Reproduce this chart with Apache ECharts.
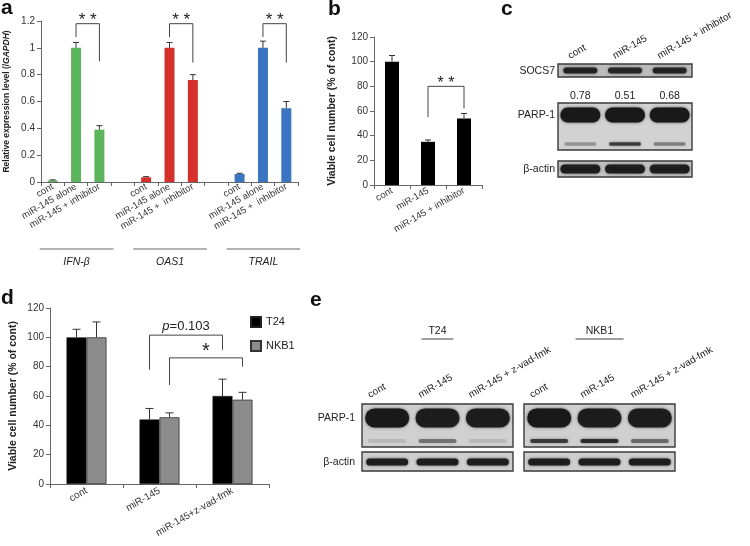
<!DOCTYPE html>
<html>
<head>
<meta charset="utf-8">
<script src="https://cdn.jsdelivr.net/npm/echarts@6/dist/echarts.min.js"></script>
<style>
  html, body { margin: 0; padding: 0; background: #fff; }
  #main { width: 750px; height: 546px; }
</style>
</head>
<body>
<div id="main"></div>
<script>
var FONT = '"Liberation Sans", Arial, sans-serif';

// ---- panel a: qPCR
var aCategories = ['cont', 'miR-145 alone', 'miR-145 + inhibitor', '',
                   'cont', 'miR-145 alone', 'miR-145 +  inhibitor', '',
                   'cont', 'miR-145 alone', 'miR-145 +  inhibitor'];
var aValues = [0.012, 1.0, 0.39, '-', 0.035, 1.0, 0.76, '-', 0.06, 1.0, 0.55];
var aErrors = [0.004, 0.04, 0.03, '-', 0.005, 0.04, 0.04, '-', 0.005, 0.05, 0.05];
var aGroups = ['IFN-β', 'OAS1', 'TRAIL'];
var aColors = ['#5cb45c', '#d6302d', '#3b75c2'];
var aBrackets = [[1, 2, 1.08, 1.18, 0.9], [5, 6, 1.08, 1.18, 0.89], [9, 10, 1.08, 1.18, 0.89]];
var aBracketLabels = ['* *', '* *', '* *'];

// ---- panel b: viable cells
var bCategories = ['cont', 'miR-145', 'miR-145 + inhibitor'];
var bValues = [100, 35, 54];
var bErrors = [5, 1.5, 4];
var bBrackets = [[1, 2, 55, 80, 62]];
var bBracketLabels = ['* *'];

// ---- panel c: western blot
var cLanes = ['cont', 'miR-145', 'miR-145 + inhibitor'];
var cRatios = ['0.78', '0.51', '0.68'];
var cSOCS7 = [0.9, 0.85, 0.88];
var cPARP = [1, 1, 1];
var cPARPcleaved = [0.3, 0.75, 0.4];
var cActin = [0.95, 0.95, 0.95];

// ---- panel d: viable cells, two lines
var dCategories = ['cont', 'miR-145', 'miR-145+z-vad-fmk'];
var dT24 = [100, 44, 60];
var dT24Err = [5.5, 7.5, 11.5];
var dNKB1 = [100, 45.5, 57.5];
var dNKB1Err = [10.5, 3, 5];
var dBrackets = [[1, 2, 78, 101.5, 91.5], [1, 2, 67.5, 86, 80]];
var dBracketSides = [[0, 0], [1, 1]];
var dBracketLabels = ['{i|p}=0.103', '{s|*}'];

// ---- panel e: western blot
var eLanes = ['cont', 'miR-145', 'miR-145 + z-vad-fmk'];
var eCells = ['T24', 'NKB1'];
var eT24PARP = [1, 0.95, 0.95];
var eT24Cleaved = [0.12, 0.45, 0.12];
var eNKB1PARP = [1, 0.95, 0.95];
var eNKB1Cleaved = [0.75, 0.85, 0.5];
var eActin = [0.95, 0.95, 0.95];

// 误差线（只画上半）
function errorBar(half, cap) {
    return function (params, api) {
        var x = api.value(0), v = api.value(1), e = api.value(2);
        var base = api.coord([x, v]);
        var top = api.coord([x, v + e]);
        var cx = base[0] + half;
        return {
            type: 'group',
            children: [
                { type: 'line', shape: { x1: cx, y1: base[1], x2: cx, y2: top[1] }, style: { stroke: '#333', lineWidth: 1 } },
                { type: 'line', shape: { x1: cx - cap, y1: top[1], x2: cx + cap, y2: top[1] }, style: { stroke: '#333', lineWidth: 1 } }
            ]
        };
    };
}

// 显著性括号
function bracket(labels, sides, half, fontSize, gap) {
    return function (params, api) {
        var i = params.dataIndex;
        var s = sides ? sides[i] : null;
        var o1 = s ? (s[0] === 0 ? -half : half) : 0;
        var o2 = s ? (s[1] === 0 ? -half : half) : 0;
        var p1 = api.coord([api.value(0), api.value(2)]);
        var pt = api.coord([api.value(0), api.value(3)]);
        var p2 = api.coord([api.value(1), api.value(4)]);
        var x1 = p1[0] + o1, x2 = p2[0] + o2;
        return {
            type: 'group',
            children: [
                {
                    type: 'polyline',
                    shape: { points: [[x1, p1[1]], [x1, pt[1]], [x2, pt[1]], [x2, p2[1]]] },
                    style: { stroke: '#444', lineWidth: 1, fill: null }
                },
                {
                    type: 'text',
                    style: {
                        text: labels[i], x: (x1 + x2) / 2, y: pt[1] - gap,
                        align: 'center', verticalAlign: 'bottom',
                        fontSize: fontSize, fontFamily: FONT, fill: '#222',
                        rich: {
                            i: { fontStyle: 'italic', fontSize: fontSize, fontFamily: FONT, fill: '#222' },
                            s: { fontSize: 20, fontFamily: FONT, fill: '#222', padding: [0, 0, -6, 0] }
                        }
                    }
                }
            ]
        };
    };
}

function errData(vals, errs) {
    var out = [];
    vals.forEach(function (v, i) {
        if (v !== '-') out.push([i, v, errs[i]]);
    });
    return out;
}

var axisLineStyle = { lineStyle: { color: '#666', width: 1 } };
var tickStyle = { show: true, length: 4, lineStyle: { color: '#666' } };

var option = {
    animation: false,
    textStyle: { fontFamily: FONT },
    grid: [
        { left: 41, top: 21, width: 257, height: 161 },
        { left: 374, top: 37, width: 108, height: 148 },
        { left: 50, top: 308, width: 219, height: 176 }
    ],
    xAxis: [
        {
            gridIndex: 0, type: 'category', data: aCategories,
            axisLine: axisLineStyle, axisTick: { show: true, length: 4, interval: 0, lineStyle: { color: '#666' } },
            axisLabel: { interval: 0, rotate: 30, fontSize: 9.5, color: '#333', margin: 4 }
        },
        {
            gridIndex: 1, type: 'category', data: bCategories,
            axisLine: axisLineStyle, axisTick: tickStyle,
            axisLabel: { interval: 0, rotate: 30, fontSize: 9.5, color: '#333', margin: 5 }
        },
        {
            gridIndex: 2, type: 'category', data: dCategories,
            axisLine: axisLineStyle, axisTick: tickStyle,
            axisLabel: { interval: 0, rotate: 30, fontSize: 10, color: '#333', margin: 6 }
        }
    ],
    yAxis: [
        {
            gridIndex: 0, type: 'value', min: 0, max: 1.2, interval: 0.2,
            axisLine: { show: true, lineStyle: { color: '#666' } }, axisTick: tickStyle, splitLine: { show: false },
            axisLabel: { fontSize: 10, color: '#333', margin: 6 },
            name: 'Relative expression level (/{i|GAPDH})', nameLocation: 'middle', nameGap: 30,
            nameTextStyle: { fontSize: 8.5, fontWeight: 'bold', color: '#222',
                rich: { i: { fontSize: 8.5, fontWeight: 'bold', fontStyle: 'italic', color: '#222' } } }
        },
        {
            gridIndex: 1, type: 'value', min: 0, max: 120, interval: 20,
            axisLine: { show: true, lineStyle: { color: '#666' } }, axisTick: tickStyle, splitLine: { show: false },
            axisLabel: { fontSize: 10, color: '#333', margin: 6 },
            name: 'Viable cell number (% of cont)', nameLocation: 'middle', nameGap: 36,
            nameTextStyle: { fontSize: 10.5, fontWeight: 'bold', color: '#222' }
        },
        {
            gridIndex: 2, type: 'value', min: 0, max: 120, interval: 20,
            axisLine: { show: true, lineStyle: { color: '#666' } }, axisTick: tickStyle, splitLine: { show: false },
            axisLabel: { fontSize: 10, color: '#333', margin: 6 },
            name: 'Viable cell number (% of cont)', nameLocation: 'middle', nameGap: 31,
            nameTextStyle: { fontSize: 10.5, fontWeight: 'bold', color: '#222' }
        }
    ],
    legend: {
        left: 245, top: 311, orient: 'vertical', itemGap: 12, itemWidth: 10, itemHeight: 10,
        icon: 'rect',
        textStyle: { fontSize: 11, color: '#222' },
        data: ['T24', 'NKB1']
    },
    series: [
        {
            type: 'bar', xAxisIndex: 0, yAxisIndex: 0, barWidth: 10,
            data: aValues.map(function (v, i) {
                return { value: v, itemStyle: { color: aColors[Math.floor(i / 4)] } };
            })
        },
        { type: 'custom', xAxisIndex: 0, yAxisIndex: 0, renderItem: errorBar(0, 3), data: errData(aValues, aErrors), z: 3 },
        { type: 'custom', xAxisIndex: 0, yAxisIndex: 0, clip: false, renderItem: bracket(aBracketLabels, null, 0, 17, -5), data: aBrackets, z: 4 },

        { type: 'bar', xAxisIndex: 1, yAxisIndex: 1, barWidth: 14, itemStyle: { color: '#000' }, data: bValues },
        { type: 'custom', xAxisIndex: 1, yAxisIndex: 1, renderItem: errorBar(0, 3), data: errData(bValues, bErrors), z: 3 },
        { type: 'custom', xAxisIndex: 1, yAxisIndex: 1, clip: false, renderItem: bracket(bBracketLabels, null, 0, 16, -5), data: bBrackets, z: 4 },

        { name: 'T24', type: 'bar', xAxisIndex: 2, yAxisIndex: 2, barWidth: 20, barGap: '0%',
          itemStyle: { color: '#000', borderColor: '#222', borderWidth: 0.6 }, data: dT24 },
        { name: 'NKB1', type: 'bar', xAxisIndex: 2, yAxisIndex: 2, barWidth: 20, barGap: '0%',
          itemStyle: { color: '#8c8c8c', borderColor: '#333', borderWidth: 0.8 }, data: dNKB1 },
        { type: 'custom', xAxisIndex: 2, yAxisIndex: 2, renderItem: errorBar(-10, 4), data: errData(dT24, dT24Err), z: 3 },
        { type: 'custom', xAxisIndex: 2, yAxisIndex: 2, renderItem: errorBar(10, 4), data: errData(dNKB1, dNKB1Err), z: 3 },
        { type: 'custom', xAxisIndex: 2, yAxisIndex: 2, clip: false, renderItem: bracket(dBracketLabels, dBracketSides, 10, 13, 2), data: dBrackets, z: 4 }
    ]
};

var chart = echarts.init(document.getElementById('main'));
chart.setOption(option);

// ---- 注释与印迹
var els = [];
function txt(x, y, s, opt) {
    opt = opt || {};
    els.push({
        type: 'text', x: x, y: y, rotation: opt.rot || 0,
        style: {
            text: s, x: 0, y: 0, align: opt.align || 'left', verticalAlign: opt.va || 'middle',
            fontSize: opt.size || 10, fontWeight: opt.weight || 'normal', fontStyle: opt.style || 'normal',
            fontFamily: FONT, fill: opt.fill || '#222'
        }
    });
}
function line(x1, y1, x2, y2, w, c) {
    els.push({ type: 'line', shape: { x1: x1, y1: y1, x2: x2, y2: y2 }, style: { stroke: c || '#555', lineWidth: w || 1 } });
}

// 面板字母
txt(1, 8, 'a', { size: 21, weight: 'bold', fill: '#111' });
txt(328, 9, 'b', { size: 21, weight: 'bold', fill: '#111' });
txt(501, 9, 'c', { size: 21, weight: 'bold', fill: '#111' });
txt(1, 298, 'd', { size: 21, weight: 'bold', fill: '#111' });
txt(310, 300, 'e', { size: 21, weight: 'bold', fill: '#111' });

// a 的基因分组
aGroups.forEach(function (name, k) {
    var x1 = chart.convertToPixel({ xAxisIndex: 0 }, k * 4) - 13;
    var x2 = chart.convertToPixel({ xAxisIndex: 0 }, k * 4 + 2) + 14;
    line(x1, 249, Math.min(x2, 300), 249, 1, '#666');
    txt((x1 + x2) / 2, 262, name, { align: 'center', style: 'italic', size: 10.5 });
});

// 印迹框
function blot(x, y, w, h, rows, bg) {
    els.push({ type: 'rect', shape: { x: x, y: y, width: w, height: h },
        style: { fill: bg || '#cdcdcd', stroke: '#3a3a3a', lineWidth: 1.4 } });
    rows.forEach(function (r) {
        r.dark.forEach(function (d, i) {
            var cx = x + w * (i + 0.5) / r.dark.length;
            els.push({
                type: 'rect',
                shape: { x: cx - r.w / 2, y: y + r.dy - r.h / 2, width: r.w, height: r.h, r: r.h / 2 },
                style: { fill: 'rgba(25,25,25,' + d + ')', shadowBlur: 3, shadowColor: 'rgba(20,20,20,' + (d * 0.7) + ')' }
            });
        });
    });
}

// c
blot(558, 64, 134, 13, [{ dy: 6.5, h: 6, w: 34, dark: cSOCS7 }], '#bcbcbc');
blot(558, 103, 134, 47, [
    { dy: 12, h: 15, w: 40, dark: cPARP },
    { dy: 41, h: 3.5, w: 32, dark: cPARPcleaved }
], '#d2d2d2');
blot(558, 161, 134, 16, [{ dy: 8, h: 9, w: 40, dark: cActin }], '#c4c4c4');
txt(555, 71, 'SOCS7', { align: 'right', size: 10.5 });
txt(555, 115, 'PARP-1', { align: 'right', size: 10.5 });
txt(555, 169, 'β-actin', { align: 'right', size: 10.5 });
cRatios.forEach(function (r, i) {
    txt(558 + 134 * (i + 0.5) / 3, 96, r, { align: 'center', size: 10.5 });
});
cLanes.forEach(function (s, i) {
    txt(558 + 134 * (i + 0.5) / 3 - 9, 61, s, { rot: Math.PI / 6, va: 'bottom', size: 10 });
});

// e
var eBoxes = [362, 524];
var eCleavedRows = [eT24Cleaved, eNKB1Cleaved];
var ePARPRows = [eT24PARP, eNKB1PARP];
eBoxes.forEach(function (bx, k) {
    blot(bx, 404, 151, 43, [
        { dy: 14, h: 19, w: 44, dark: ePARPRows[k] },
        { dy: 37, h: 4, w: 38, dark: eCleavedRows[k] }
    ], '#d0d0d0');
    blot(bx, 452, 151, 19, [{ dy: 10, h: 7, w: 42, dark: eActin }], '#cfcfcf');
    eLanes.forEach(function (s, i) {
        txt(bx + 151 * (i + 0.5) / 3 - 16, 400, s, { rot: Math.PI / 6, va: 'bottom', size: 10 });
    });
    var cx = bx + 151 / 2;
    txt(cx, 331, eCells[k], { align: 'center', size: 10.5 });
    var hw = k === 0 ? 16 : 24;
    line(cx - hw, 339, cx + hw, 339, 1.2, '#444');
});
txt(355, 418, 'PARP-1', { align: 'right', size: 10.5 });
txt(355, 462, 'β-actin', { align: 'right', size: 10.5 });

chart.setOption({ graphic: { elements: els } });
</script>
</body>
</html>
